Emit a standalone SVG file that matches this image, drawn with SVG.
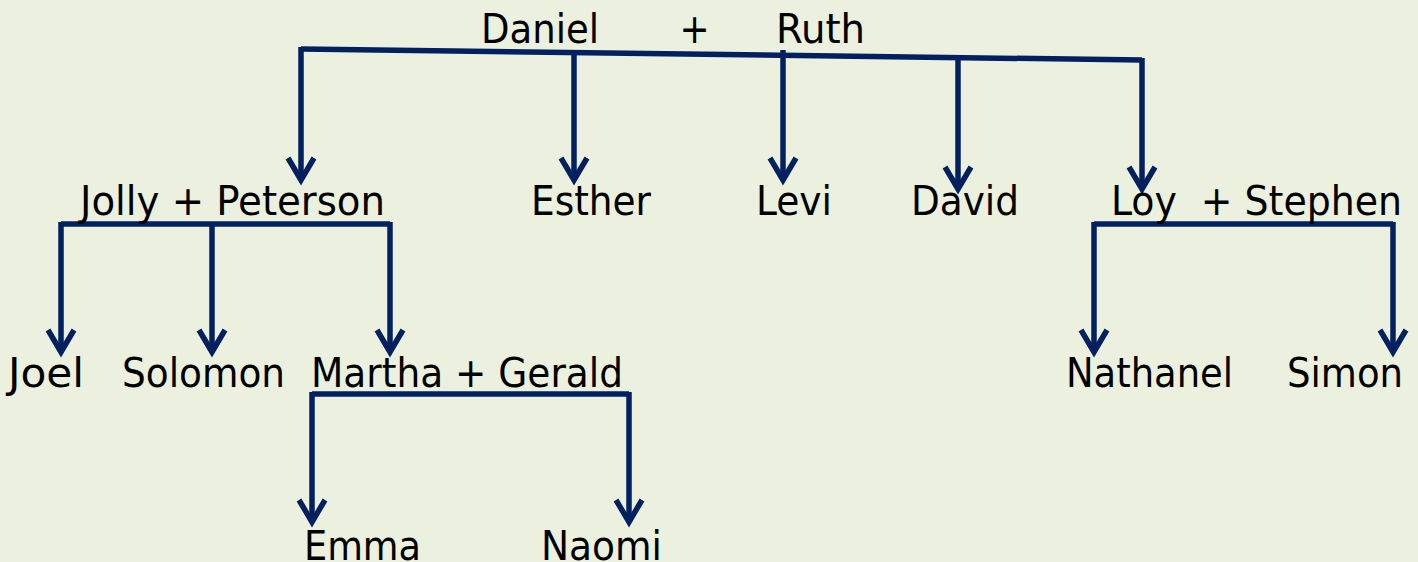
<svg xmlns="http://www.w3.org/2000/svg" width="1418" height="562" viewBox="0 0 1418 562">
<defs>
<style>
.t{font-family:"DejaVu Sans Condensed","DejaVu Sans","Liberation Sans",sans-serif;font-size:40px;fill:#000}
.c{stroke:#002060;stroke-width:5.5;fill:none}
.a{stroke:#002060;stroke-width:5.5;fill:none;marker-end:url(#arr)}
</style>
<marker id="arr" markerUnits="userSpaceOnUse" orient="auto" refX="0" refY="0" markerWidth="40" markerHeight="40" overflow="visible">
<path d="M-22,-13 L0,0 L-22,13" fill="none" stroke="#002060" stroke-width="5.5" stroke-linejoin="miter"/>
</marker>
</defs>
<rect width="1418" height="562" fill="#EBF1DE"/>
<g id="connectors">
<path class="c" d="M301,49 L1142,60"/>
<path class="a" d="M301,47 L301,180"/>
<path class="a" d="M574,53 L574,180"/>
<path class="a" d="M783,50 L783,180"/>
<path class="a" d="M958,57 L958,189"/>
<path class="a" d="M1142,58 L1142,189"/>
<path class="c" d="M61,224 L390,224"/>
<path class="a" d="M61,222 L61,352"/>
<path class="a" d="M212,224 L212,352"/>
<path class="a" d="M390,222 L390,352"/>
<path class="c" d="M312,394 L629,394"/>
<path class="a" d="M312,392 L312,522"/>
<path class="a" d="M629,392 L629,522"/>
<path class="c" d="M1094,224 L1393,224"/>
<path class="a" d="M1094,222 L1094,352"/>
<path class="a" d="M1393,222 L1393,352"/>
</g>
<g id="daniel-ruth">
<text class="t" x="481" y="43" textLength="118" lengthAdjust="spacingAndGlyphs">Daniel</text>
<text class="t" x="694.5" y="43" text-anchor="middle">+</text>
<text class="t" x="776" y="43" textLength="89" lengthAdjust="spacingAndGlyphs">Ruth</text>
</g>
<g id="jolly-peterson"><text class="t" x="80" y="215" textLength="305" lengthAdjust="spacingAndGlyphs">Jolly + Peterson</text></g>
<g id="esther"><text class="t" x="531" y="215" textLength="120" lengthAdjust="spacingAndGlyphs">Esther</text></g>
<g id="levi"><text class="t" x="756" y="215" textLength="76" lengthAdjust="spacingAndGlyphs">Levi</text></g>
<g id="david"><text class="t" x="911" y="215" textLength="108" lengthAdjust="spacingAndGlyphs">David</text></g>
<g id="loy-stephen"><text class="t" x="1111" y="215" textLength="291" lengthAdjust="spacingAndGlyphs" xml:space="preserve">Loy  + Stephen</text></g>
<g id="joel"><text class="t" x="8" y="387" textLength="76" lengthAdjust="spacingAndGlyphs">Joel</text></g>
<g id="solomon"><text class="t" x="122" y="387" textLength="163" lengthAdjust="spacingAndGlyphs">Solomon</text></g>
<g id="martha-gerald"><text class="t" x="311" y="387" textLength="312" lengthAdjust="spacingAndGlyphs">Martha + Gerald</text></g>
<g id="nathanel"><text class="t" x="1066" y="387" textLength="167" lengthAdjust="spacingAndGlyphs">Nathanel</text></g>
<g id="simon"><text class="t" x="1287" y="387" textLength="116" lengthAdjust="spacingAndGlyphs">Simon</text></g>
<g id="emma"><text class="t" x="304" y="560" textLength="117" lengthAdjust="spacingAndGlyphs">Emma</text></g>
<g id="naomi"><text class="t" x="541" y="560" textLength="121" lengthAdjust="spacingAndGlyphs">Naomi</text></g>
</svg>
